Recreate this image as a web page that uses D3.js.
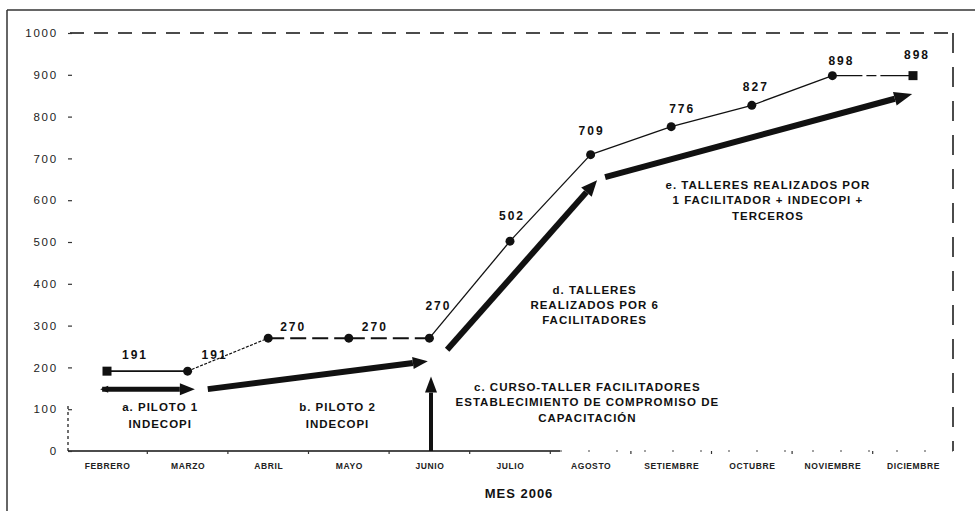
<!DOCTYPE html>
<html><head><meta charset="utf-8">
<script src="https://cdn.jsdelivr.net/npm/d3@7"></script>
<style>
html,body{margin:0;padding:0;background:#fff;}
svg{display:block;font-family:"Liberation Sans",Arial,sans-serif;}
</style></head>
<body>
<svg id="chart" width="975" height="511"></svg>
<script>
// ---------- data ----------
const months = ["FEBRERO","MARZO","ABRIL","MAYO","JUNIO","JULIO","AGOSTO","SETIEMBRE","OCTUBRE","NOVIEMBRE","DICIEMBRE"];
const values = [191,191,270,270,270,502,709,776,827,898,898];
const yTicks = [0,100,200,300,400,500,600,700,800,900,1000];
const axisTitle = "MES 2006";
// arrows: [startMonthIndex, startValue, endMonthIndex, endValue]
const arrowA = [-0.06,148, 1.09,148];
const arrowB = [1.25,148, 3.98,215];
const arrowC = [4.02,0, 4.02,178];
const arrowD = [4.22,242, 6.08,648];
const arrowE = [6.18,655, 9.99,854];
// annotation texts: [monthIndex, value, lines]
const noteA = [0.66, 96, ["a. PILOTO 1","INDECOPI"]];
const noteB = [2.86, 96, ["b. PILOTO 2","INDECOPI"]];
const noteC = [5.96, 144, ["c. CURSO-TALLER FACILITADORES","ESTABLECIMIENTO DE COMPROMISO DE","CAPACITACIÓN"]];
const noteD = [6.05, 376, ["d. TALLERES","REALIZADOS POR 6","FACILITADORES"]];
const noteE = [8.2, 627, ["e. TALLERES REALIZADOS POR","1 FACILITADOR + INDECOPI +","TERCEROS"]];

// ---------- layout / style ----------
const labelOffsets = [[28,-12],[27,-12],[25,-7],[26,-7],[9,-28],[2,-21],[1,-20],[11,-14],[4,-14],[9,-11],[4,-17]];
const svg = d3.select("#chart");
const x = d3.scalePoint().domain(months).range([107,913]);
const xi = d3.scaleLinear().domain([0, months.length-1]).range([107,913]);
const y = d3.scaleLinear().domain([0,1000]).range([451,33]);
const ink = "#111";

// frame
svg.append("line").attr("x1",7).attr("y1",10).attr("x2",975).attr("y2",10).attr("stroke","#333").attr("stroke-width",1.5);
svg.append("line").attr("x1",7).attr("y1",10).attr("x2",7).attr("y2",511).attr("stroke","#333").attr("stroke-width",1.5);

// top dashed & right dashed boundary
svg.append("line").attr("x1",70).attr("x2",953).attr("y1",y(1000)).attr("y2",y(1000))
  .attr("stroke",ink).attr("stroke-width",1.3).attr("stroke-dasharray","14,10");
svg.append("line").attr("x1",953).attr("x2",953).attr("y1",y(1000)).attr("y2",y(0))
  .attr("stroke",ink).attr("stroke-width",1.5).attr("stroke-dasharray","20,14");

// x axis baseline
svg.append("line").attr("x1",68).attr("x2",560).attr("y1",y(0)).attr("y2",y(0)).attr("stroke",ink).attr("stroke-width",1.5);
svg.append("line").attr("x1",560).attr("x2",953).attr("y1",y(0)).attr("y2",y(0)).attr("stroke","#444").attr("stroke-width",1).attr("stroke-dasharray","2,26");
// dotted left axis near bottom
svg.append("line").attr("x1",68).attr("x2",68).attr("y1",y(0)).attr("y2",y(110)).attr("stroke",ink).attr("stroke-width",1.2).attr("stroke-dasharray","3,3");

// y axis ticks + labels
const yAxis = d3.axisLeft(y).tickValues(yTicks).tickSize(4).tickPadding(10).tickFormat(d3.format("d"));
const gy = svg.append("g").attr("transform","translate(72,0)").call(yAxis);
gy.select(".domain").remove();
gy.selectAll(".tick line").attr("stroke","#333").attr("stroke-width",1.2);
gy.selectAll(".tick text").attr("font-size",11.5).attr("fill","#222").attr("letter-spacing","1.8px")
  .attr("font-family","'Liberation Sans',Arial,sans-serif");

// x axis labels
const xAxis = d3.axisBottom(x).tickSize(0).tickPadding(12);
const gx = svg.append("g").attr("transform",`translate(0,${y(0)})`).call(xAxis);
gx.select(".domain").remove();
gx.selectAll(".tick text").attr("font-size",8.5).attr("fill","#222").attr("font-weight","bold")
  .attr("letter-spacing","0.6px").attr("font-family","'Liberation Sans',Arial,sans-serif");
// small ticks between months
svg.selectAll("line.minor").data(d3.range(0.5, months.length-1, 1)).join("line")
  .attr("x1",d=>xi(d)).attr("x2",d=>xi(d)).attr("y1",y(0)).attr("y2",y(0)+3)
  .attr("stroke","#333").attr("stroke-width",1.2);

// axis title
svg.append("text").attr("x",519).attr("y",498).attr("text-anchor","middle")
  .attr("font-size",13).attr("font-weight","bold").attr("letter-spacing","1px").attr("fill","#111").text(axisTitle);

// data line segments
const pts = values.map((v,i)=>[x(months[i]), y(v)]);
const segStyle = i => {
  if (i===0) return {w:1.6,dash:null};
  if (i===1) return {w:1.2,dash:"3,1.5"};
  if (i===2||i===3) return {w:2,dash:"16,6"};
  if (i===9) return {w:1.3,dash:"30,4,10,4"};
  return {w:1.3,dash:null};
};
for (let i=0;i<pts.length-1;i++){
  const s = segStyle(i);
  svg.append("line").attr("x1",pts[i][0]).attr("y1",pts[i][1]).attr("x2",pts[i+1][0]).attr("y2",pts[i+1][1])
    .attr("stroke",ink).attr("stroke-width",s.w).attr("stroke-dasharray",s.dash);
}
// markers
values.forEach((v,i)=>{
  const cx = x(months[i]), cy = y(v);
  if (i===0 || i===values.length-1){
    svg.append("rect").attr("x",cx-4.5).attr("y",cy-4.5).attr("width",9).attr("height",9).attr("fill",ink);
  } else {
    svg.append("circle").attr("cx",cx).attr("cy",cy).attr("r",4.5).attr("fill",ink);
  }
});
// value labels
svg.selectAll("text.val").data(values).join("text").attr("class","val")
  .attr("x",(d,i)=>x(months[i])+labelOffsets[i][0]).attr("y",(d,i)=>y(d)+labelOffsets[i][1])
  .attr("text-anchor","middle").attr("font-size",12).attr("font-weight","bold")
  .attr("letter-spacing","2px").attr("fill","#111").text(d=>d);

// arrows
function drawArrow(a, opts={}){
  const x1=xi(a[0]), y1=y(a[1]), x2=xi(a[2]), y2=y(a[3]);
  const ang = Math.atan2(y2-y1, x2-x1);
  const hl = opts.hl||15, hw = opts.hw||6;
  const bx = x2 - hl*Math.cos(ang), by = y2 - hl*Math.sin(ang);
  svg.append("line").attr("x1",x1).attr("y1",y1).attr("x2",bx).attr("y2",by)
    .attr("stroke",ink).attr("stroke-width",opts.w||5);
  const px = -Math.sin(ang), py = Math.cos(ang);
  svg.append("path").attr("d",`M${x2},${y2}L${bx+px*hw},${by+py*hw}L${bx-px*hw},${by-py*hw}Z`).attr("fill",ink);
  if (opts.back){
    const h2=6, w2=3.5;
    const cx = x1 + h2*Math.cos(ang), cy = y1 + h2*Math.sin(ang);
    svg.append("path").attr("d",`M${x1-2*Math.cos(ang)},${y1}L${cx+px*w2},${cy+py*w2}L${cx-px*w2},${cy-py*w2}Z`).attr("fill",ink);
  }
}
drawArrow(arrowA,{w:5,back:true});
drawArrow(arrowB,{w:6});
drawArrow(arrowC,{w:4,hl:16,hw:6});
drawArrow(arrowD,{w:6,hl:16,hw:7});
drawArrow(arrowE,{w:6,hl:18,hw:7});

// annotation notes
function drawNote(n, lh){
  const t = svg.append("text").attr("x",xi(n[0])).attr("y",y(n[1])).attr("text-anchor","middle")
    .attr("font-size",11.5).attr("font-weight","bold").attr("fill","#111").attr("letter-spacing","1px");
  n[2].forEach((line,k)=>t.append("tspan").attr("x",xi(n[0])).attr("dy",k===0?0:lh).text(line));
}
drawNote(noteA,17);
drawNote(noteB,17);
drawNote(noteC,15.5);
drawNote(noteD,15);
drawNote(noteE,15.5);
</script>
</body></html>
